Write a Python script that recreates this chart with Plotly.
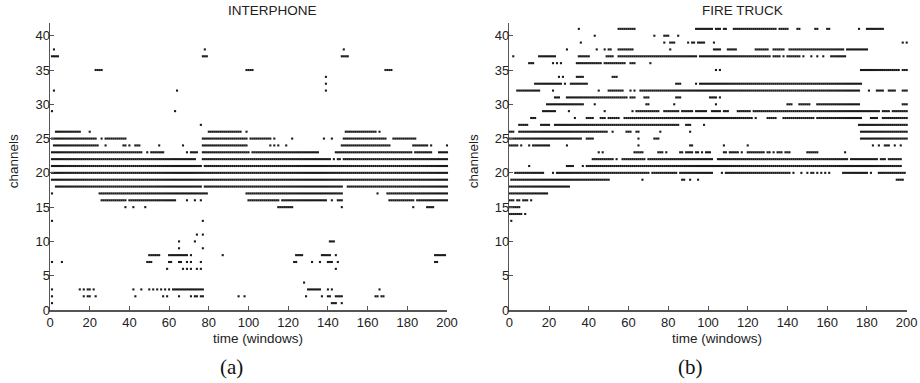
import numpy as np
import plotly.graph_objects as go

# ---------------- data: active (channel, first window, last window) runs ----------------
interphone_runs = [
    (38, 2, 2), (38, 78, 78), (38, 148, 148),
    (37, 1, 4), (37, 77, 79), (37, 147, 150),
    (35, 23, 26), (35, 99, 102), (35, 169, 172),
    (34, 139, 139), (33, 139, 139),
    (32, 2, 2), (32, 64, 64), (32, 139, 139),
    (29, 1, 1), (29, 63, 63),
    (27, 76, 76),
    (26, 3, 5), (26, 6, 15), (26, 20, 20), (26, 80, 86), (26, 87, 94), (26, 95, 96), (26, 99, 99),
    (26, 149, 164), (26, 166, 166),
    (25, 1, 23), (25, 26, 26), (25, 28, 38), (25, 77, 99), (25, 101, 111), (25, 113, 113),
    (25, 122, 122), (25, 138, 138), (25, 142, 142), (25, 148, 169), (25, 173, 184),
    (24, 2, 24), (24, 28, 28), (24, 37, 38), (24, 40, 40), (24, 43, 45), (24, 55, 55), (24, 67, 67),
    (24, 77, 99), (24, 111, 111), (24, 113, 113), (24, 115, 115), (24, 119, 119), (24, 147, 171),
    (24, 183, 190), (24, 192, 192), (24, 200, 200),
    (23, 1, 35), (23, 36, 46), (23, 49, 49), (23, 51, 57), (23, 69, 69), (23, 71, 74), (23, 77, 100),
    (23, 102, 135), (23, 144, 146), (23, 147, 182), (23, 184, 192), (23, 196, 200),
    (22, 1, 66), (22, 67, 69), (22, 70, 73), (22, 77, 139), (22, 140, 141), (22, 143, 143),
    (22, 145, 146), (22, 148, 200),
    (21, 1, 76), (21, 78, 200),
    (20, 1, 200),
    (19, 1, 200),
    (18, 3, 76), (18, 78, 147), (18, 150, 200),
    (17, 1, 1), (17, 25, 79), (17, 99, 147), (17, 165, 165), (17, 170, 200),
    (16, 26, 38), (16, 40, 63), (16, 69, 69), (16, 73, 73), (16, 76, 76), (16, 100, 115),
    (16, 117, 139), (16, 142, 142), (16, 145, 147), (16, 171, 183), (16, 185, 200),
    (15, 38, 38), (15, 42, 42), (15, 48, 48), (15, 115, 119), (15, 120, 122), (15, 147, 147),
    (15, 183, 183), (15, 190, 193),
    (13, 1, 1), (13, 77, 77),
    (11, 74, 74), (11, 77, 77),
    (10, 65, 65), (10, 73, 73), (10, 141, 143),
    (9, 65, 65), (9, 77, 77),
    (8, 50, 55), (8, 60, 65), (8, 66, 69), (8, 71, 71), (8, 87, 87), (8, 124, 127), (8, 137, 141),
    (8, 144, 144), (8, 194, 199),
    (7, 1, 1), (7, 6, 6), (7, 49, 51), (7, 60, 61), (7, 65, 66), (7, 69, 69), (7, 71, 71),
    (7, 76, 76), (7, 123, 124), (7, 132, 132), (7, 136, 136), (7, 140, 142), (7, 145, 145),
    (7, 194, 195),
    (6, 59, 59), (6, 67, 67), (6, 69, 69), (6, 71, 71), (6, 74, 74), (6, 76, 76), (6, 144, 144),
    (4, 128, 128),
    (3, 1, 1), (3, 15, 15), (3, 17, 17), (3, 19, 19), (3, 20, 20), (3, 22, 22), (3, 42, 42),
    (3, 46, 46), (3, 50, 50), (3, 52, 52), (3, 54, 54), (3, 56, 56), (3, 58, 58), (3, 60, 60),
    (3, 62, 77), (3, 130, 136), (3, 140, 140), (3, 142, 142), (3, 166, 166),
    (2, 1, 1), (2, 17, 17), (2, 19, 20), (2, 23, 23), (2, 43, 43), (2, 57, 57), (2, 59, 59),
    (2, 65, 65), (2, 71, 71), (2, 73, 74), (2, 76, 77), (2, 95, 95), (2, 98, 98), (2, 129, 129),
    (2, 137, 137), (2, 140, 141), (2, 144, 147), (2, 164, 165), (2, 167, 168),
    (1, 1, 1), (1, 142, 144), (1, 147, 147),
]

firetruck_runs = [
    (41, 35, 35), (41, 55, 63), (41, 94, 99), (41, 100, 102), (41, 104, 106), (41, 108, 109),
    (41, 113, 124), (41, 125, 133), (41, 134, 134), (41, 136, 140), (41, 145, 146), (41, 154, 155),
    (41, 160, 161), (41, 176, 176), (41, 180, 182), (41, 183, 188),
    (40, 43, 43), (40, 73, 73), (40, 78, 80), (40, 85, 85),
    (39, 36, 36), (39, 78, 78), (39, 81, 83), (39, 90, 90), (39, 92, 93), (39, 95, 98),
    (39, 103, 103), (39, 198, 198), (39, 200, 200),
    (38, 29, 29), (38, 44, 44), (38, 48, 48), (38, 50, 51), (38, 55, 62), (38, 81, 81),
    (38, 103, 103), (38, 104, 106), (38, 110, 112), (38, 113, 114), (38, 124, 130), (38, 133, 138),
    (38, 141, 168), (38, 170, 180),
    (37, 2, 2), (37, 15, 23), (37, 35, 40), (37, 49, 52), (37, 55, 64), (37, 65, 92), (37, 93, 94),
    (37, 96, 130), (37, 131, 131), (37, 133, 136), (37, 138, 138), (37, 140, 146), (37, 148, 148),
    (37, 152, 152), (37, 155, 155), (37, 158, 158), (37, 162, 169),
    (36, 10, 12), (36, 22, 22), (36, 24, 24), (36, 26, 26), (36, 34, 44), (36, 45, 46),
    (36, 48, 58), (36, 61, 63), (36, 71, 71),
    (35, 104, 104), (35, 106, 106), (35, 177, 196), (35, 198, 200),
    (34, 25, 25), (34, 27, 27), (34, 34, 37), (34, 52, 54),
    (33, 13, 23), (33, 24, 26), (33, 28, 28), (33, 31, 33), (33, 34, 39), (33, 84, 86),
    (33, 94, 94), (33, 96, 129), (33, 130, 177),
    (32, 4, 15), (32, 22, 22), (32, 45, 45), (32, 50, 57), (32, 61, 61), (32, 63, 63),
    (32, 66, 74), (32, 75, 175), (32, 176, 176), (32, 181, 181), (32, 185, 188), (32, 191, 194),
    (32, 198, 200),
    (31, 23, 25), (31, 29, 59), (31, 61, 62), (31, 63, 63), (31, 68, 70), (31, 84, 86),
    (31, 101, 104), (31, 106, 106),
    (30, 19, 32), (30, 33, 37), (30, 43, 43), (30, 69, 70), (30, 83, 83), (30, 104, 104),
    (30, 140, 142), (30, 146, 151), (30, 155, 176), (30, 198, 200),
    (29, 17, 23), (29, 30, 30), (29, 48, 48), (29, 62, 62), (29, 64, 74), (29, 75, 75),
    (29, 78, 85), (29, 87, 92), (29, 94, 99), (29, 102, 106), (29, 108, 110), (29, 115, 121),
    (29, 123, 128), (29, 129, 186), (29, 188, 191), (29, 193, 200),
    (28, 11, 13), (28, 33, 33), (28, 39, 42), (28, 46, 48), (28, 50, 55), (28, 58, 119),
    (28, 120, 122), (28, 124, 124), (28, 130, 134), (28, 138, 153), (28, 155, 177),
    (28, 182, 185), (28, 188, 200),
    (27, 5, 9), (27, 16, 19), (27, 20, 20), (27, 23, 85), (27, 89, 91), (27, 98, 98), (27, 176, 200),
    (26, 0, 2), (26, 5, 7), (26, 8, 49), (26, 52, 52), (26, 59, 61), (26, 64, 65), (26, 76, 76),
    (26, 91, 91), (26, 177, 200),
    (25, 0, 1), (25, 2, 36), (25, 39, 42), (25, 65, 65), (25, 73, 75), (25, 177, 200),
    (24, 0, 4), (24, 6, 6), (24, 10, 10), (24, 12, 20), (24, 29, 29), (24, 65, 65), (24, 91, 92),
    (24, 108, 108), (24, 120, 120), (24, 183, 183), (24, 186, 186), (24, 189, 191),
    (24, 194, 194), (24, 197, 197),
    (23, 45, 45), (23, 47, 47), (23, 63, 67), (23, 75, 77), (23, 79, 79), (23, 86, 87),
    (23, 89, 92), (23, 94, 95), (23, 97, 97), (23, 99, 101), (23, 108, 109), (23, 111, 115),
    (23, 117, 117), (23, 120, 128), (23, 130, 131), (23, 133, 133), (23, 135, 137),
    (23, 139, 141), (23, 150, 155), (23, 169, 169),
    (22, 42, 52), (22, 54, 54), (22, 57, 68), (22, 70, 102), (22, 105, 170), (22, 172, 185),
    (22, 187, 189), (22, 191, 197),
    (21, 10, 10), (21, 29, 32), (21, 37, 37), (21, 39, 197),
    (20, 3, 17), (20, 22, 22), (20, 24, 35), (20, 36, 70), (20, 72, 80), (20, 81, 84),
    (20, 86, 102), (20, 107, 107), (20, 109, 141), (20, 143, 143), (20, 147, 147),
    (20, 150, 150), (20, 152, 153), (20, 155, 155), (20, 157, 157), (20, 159, 159),
    (20, 161, 161), (20, 168, 180), (20, 182, 182), (20, 186, 199),
    (19, 1, 37), (19, 38, 40), (19, 41, 50), (19, 67, 67), (19, 87, 88), (19, 91, 91),
    (19, 95, 95), (19, 195, 198),
    (18, 0, 22), (18, 23, 28), (18, 29, 30),
    (17, 0, 16), (17, 17, 19),
    (16, 0, 2), (16, 4, 5), (16, 7, 9), (16, 11, 11),
    (15, 0, 5),
    (14, 0, 6), (14, 8, 8),
    (13, 1, 1),
]

panel_titles = ["INTERPHONE", "FIRE TRUCK"]
panel_labels = ["(a)", "(b)"]
x_ticks = [0, 20, 40, 60, 80, 100, 120, 140, 160, 180, 200]
y_ticks = [0, 5, 10, 15, 20, 25, 30, 35, 40]

# ---------------- layout constants ----------------
W, H = 920, 383
px_x = lambda p: p / W
px_y = lambda p: 1 - p / H
dom_x = [(50, 447), (509.3, 906.7)]
dom_y_px = (22.7, 310)
FONT = "Liberation Sans, Arial, Helvetica, sans-serif"
AXC = "#555555"


def expand(runs):
    xs, ys = [], []
    for ch, s, e in runs:
        w = np.arange(s, e + 1)
        xs.extend(w.tolist())
        ys.extend([ch] * len(w))
    return xs, ys


fig = go.Figure()
for i, runs in enumerate([interphone_runs, firetruck_runs]):
    xs, ys = expand(runs)
    fig.add_trace(go.Scatter(
        x=xs, y=ys, mode="markers",
        marker=dict(symbol="square", size=2.1, color="#1a1a1a", line=dict(width=0)),
        xaxis="x" if i == 0 else "x2", yaxis="y" if i == 0 else "y2",
        cliponaxis=False, hoverinfo="skip",
    ))

axis_common = dict(
    showline=True, linecolor=AXC, linewidth=1.5, ticks="inside", ticklen=4,
    tickcolor=AXC, showgrid=False, zeroline=False, automargin=False,
    tickfont=dict(family=FONT, size=13, color="#222222"),
)

layout = dict(
    width=W, height=H, margin=dict(l=0, r=0, t=0, b=0, autoexpand=False),
    paper_bgcolor="white", plot_bgcolor="white", showlegend=False,
)
for i in range(2):
    sx = "" if i == 0 else "2"
    layout["xaxis" + sx] = dict(
        axis_common, domain=[px_x(dom_x[i][0]), px_x(dom_x[i][1])], range=[0, 200],
        tickvals=x_ticks, anchor="y" + sx, ticklabelstandoff=0,
    )
    layout["yaxis" + sx] = dict(
        axis_common, domain=[px_y(dom_y_px[1]), px_y(dom_y_px[0])], range=[0, 41.9],
        tickvals=y_ticks, anchor="x" + sx, ticklabelstandoff=-4,
    )
fig.update_layout(**layout)

ann = []
title_cx = [272, 742]
xlab_cx = [257.5, 717]
ylab_cx = [13.3, 473.3]
lab_cx = [231, 690]
for i in range(2):
    ann.append(dict(text=panel_titles[i], x=px_x(title_cx[i]), y=px_y(10.5), xref="paper", yref="paper",
                    showarrow=False, font=dict(family=FONT, size=13.5, color="#222222"),
                    xanchor="center", yanchor="middle"))
    ann.append(dict(text="time (windows)", x=px_x(xlab_cx[i]), y=px_y(338), xref="paper", yref="paper",
                    showarrow=False, font=dict(family=FONT, size=13.5, color="#222222"),
                    xanchor="center", yanchor="middle"))
    ann.append(dict(text="channels", x=px_x(ylab_cx[i]), y=px_y(161), xref="paper", yref="paper",
                    showarrow=False, textangle=-90, font=dict(family=FONT, size=13.5, color="#222222"),
                    xanchor="center", yanchor="middle"))
    ann.append(dict(text=panel_labels[i], x=px_x(lab_cx[i]), y=px_y(367), xref="paper", yref="paper",
                    showarrow=False, font=dict(family="Liberation Serif, DejaVu Serif, serif", size=21,
                                               color="#111111"),
                    xanchor="center", yanchor="middle"))
fig.update_layout(annotations=ann)

fig.write_html("out.html", config={"displayModeBar": False, "staticPlot": True},
               post_script="document.body.style.margin='0';document.body.style.padding='0';")
